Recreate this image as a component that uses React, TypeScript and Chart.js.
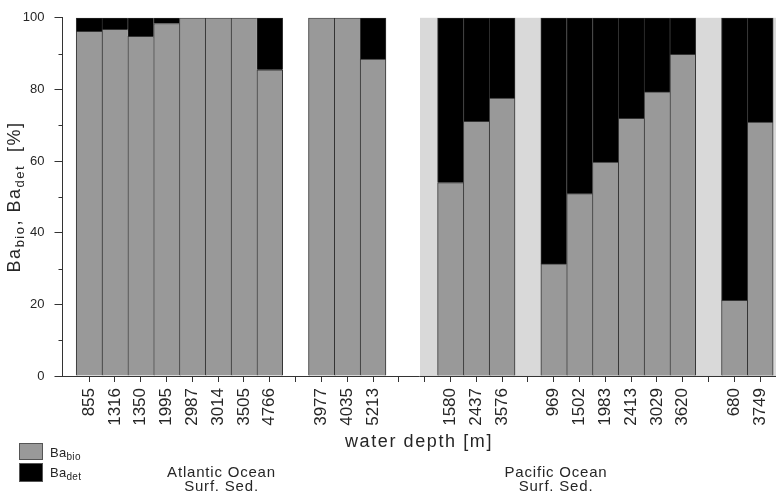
import React, { useEffect, useRef } from 'react';
import { Chart, registerables } from 'chart.js';

Chart.register(...registerables);

// ---- data ----
const DEPTH_LABELS: string[] = [
  '855', '1316', '1350', '1995', '2987', '3014', '3505', '4766', '',
  '3977', '4035', '5213', '', '',
  '1580', '2437', '3576', '',
  '969', '1502', '1983', '2413', '3029', '3620', '',
  '680', '3749',
];
const BA_BIO: (number | null)[] = [
  96.2, 96.8, 94.8, 98.4, 100, 100, 100, 85.5, null,
  100, 100, 88.5, null, null,
  54.0, 71.1, 77.6, null,
  31.3, 50.9, 59.7, 71.9, 79.3, 89.8, null,
  21.1, 70.9,
];
const BA_DET: (number | null)[] = [
  3.8, 3.2, 5.2, 1.6, 0, 0, 0, 14.5, null,
  0, 0, 11.5, null, null,
  46.0, 28.9, 22.4, null,
  68.7, 49.1, 40.3, 28.1, 20.7, 10.2, null,
  78.9, 29.1,
];
const Y_MAJOR_TICKS = [0, 20, 40, 60, 80, 100];
const Y_MINOR_TICKS = [10, 30, 50, 70, 90];
const X_MIN = -1.03;
const X_MAX = 26.61;
const PACIFIC_SHADE_FROM = 12.82;
const GROUP_TITLES = ['Atlantic Ocean', 'Pacific Ocean'];
const GROUP_SUBTITLE = 'Surf. Sed.';
const X_TITLE = 'water depth [m]';
const Y_TITLE_PARTS = [
  { t: 'Ba' }, { t: 'bio', sub: true }, { t: ', Ba' }, { t: 'det', sub: true }, { t: '  [%]' },
];
const LEGEND_ITEMS = [
  { main: 'Ba', sub: 'bio' },
  { main: 'Ba', sub: 'det' },
];

// ---- styles ----
const FONT = '"Liberation Sans", Arial, Helvetica, sans-serif';
const TEXT = '#262626';
const BIO_COLOR = '#999999';
const DET_COLOR = '#000000';
const EDGE = '#333333';
const SHADE = '#d9d9d9';

type Part = { t: string; sub?: boolean };

const toPoints = (vals: (number | null)[]) =>
  vals
    .map((v, i) => (v === null ? null : { x: i, y: v }))
    .filter((p) => p !== null) as { x: number; y: number }[];

const isGroupEnd = (i: number) => !DEPTH_LABELS[i + 1];

function drawRich(
  ctx: CanvasRenderingContext2D,
  parts: Part[],
  x: number,
  y: number,
  size: number,
  subSize: number,
  align: 'left' | 'center',
  spacing: number,
) {
  const mainFont = `${size}px ${FONT}`;
  const subFont = `${subSize}px ${FONT}`;
  (ctx as any).letterSpacing = `${spacing}px`;
  ctx.textBaseline = 'alphabetic';
  ctx.textAlign = 'left';
  const widths = parts.map((p) => {
    ctx.font = p.sub ? subFont : mainFont;
    return ctx.measureText(p.t).width;
  });
  const total = widths.reduce((a, b) => a + b, 0);
  let cx = align === 'center' ? x - total / 2 : x;
  parts.forEach((p, i) => {
    ctx.font = p.sub ? subFont : mainFont;
    ctx.fillText(p.t, cx, p.sub ? y + subSize * 0.3 : y);
    cx += widths[i];
  });
  (ctx as any).letterSpacing = '0px';
}

const decorPlugin = {
  id: 'decor',
  beforeDatasetsDraw(chart: any) {
    const { ctx, chartArea, scales } = chart;
    const x0 = scales.x.getPixelForValue(PACIFIC_SHADE_FROM);
    ctx.save();
    ctx.fillStyle = SHADE;
    ctx.fillRect(x0, chartArea.top, chartArea.right - x0, chartArea.bottom - chartArea.top);
    ctx.restore();
  },
  afterDraw(chart: any) {
    const { ctx, chartArea, scales } = chart;
    ctx.save();
    // minor y ticks
    ctx.strokeStyle = EDGE;
    ctx.lineWidth = 1;
    ctx.beginPath();
    Y_MINOR_TICKS.forEach((v) => {
      const py = Math.round(scales.y.getPixelForValue(v)) + 0.5;
      ctx.moveTo(chartArea.left - 4, py);
      ctx.lineTo(chartArea.left, py);
    });
    ctx.stroke();

    ctx.fillStyle = TEXT;
    // y title (rotated)
    ctx.save();
    ctx.translate(20, (chartArea.top + chartArea.bottom) / 2);
    ctx.rotate(-Math.PI / 2);
    drawRich(ctx, Y_TITLE_PARTS, 0, 0, 18, 13, 'center', 1.5);
    ctx.restore();

    // x title
    drawRich(ctx, [{ t: X_TITLE }], 419, 447, 18, 13, 'center', 1.6);

    // legend
    const boxColors = [BIO_COLOR, DET_COLOR];
    const boxTops = [443, 463];
    LEGEND_ITEMS.forEach((item, i) => {
      ctx.fillStyle = boxColors[i];
      ctx.fillRect(19, boxTops[i], 24, i === 0 ? 17 : 19);
      ctx.strokeStyle = '#555555';
      ctx.strokeRect(19.5, boxTops[i] + 0.5, 23, i === 0 ? 16 : 18);
      ctx.fillStyle = TEXT;
      drawRich(ctx, [{ t: item.main }, { t: item.sub, sub: true }], 50, boxTops[i] + 13.5, 13, 10, 'left', 0.3);
    });

    // group labels
    const centers = [221.5, 556];
    GROUP_TITLES.forEach((title, i) => {
      drawRich(ctx, [{ t: title }], centers[i], 477, 15, 11, 'center', 0.8);
      drawRich(ctx, [{ t: GROUP_SUBTITLE }], centers[i], 491, 15, 11, 'center', 0.8);
    });
    ctx.restore();
  },
};

export default function App() {
  const canvasRef = useRef<HTMLCanvasElement | null>(null);

  useEffect(() => {
    const canvas = canvasRef.current;
    if (!canvas) return;
    const borderWidth = (c: any) => {
      const i = c.raw ? c.raw.x : -1;
      return { top: 1, left: 1, bottom: 0, right: i >= 0 && isGroupEnd(i) ? 1 : 0 };
    };
    const chart = new Chart(canvas, {
      type: 'bar',
      data: {
        datasets: [
          {
            label: 'Ba bio',
            data: toPoints(BA_BIO),
            backgroundColor: BIO_COLOR,
            borderColor: EDGE,
            borderWidth,
            borderSkipped: false,
            stack: 'ba',
            barPercentage: 1,
            categoryPercentage: 1,
          },
          {
            label: 'Ba det',
            data: toPoints(BA_DET),
            backgroundColor: DET_COLOR,
            borderColor: EDGE,
            borderWidth,
            borderSkipped: false,
            stack: 'ba',
            barPercentage: 1,
            categoryPercentage: 1,
          },
        ] as any,
      },
      options: {
        responsive: false,
        animation: false,
        devicePixelRatio: 1,
        layout: { padding: { top: 16, left: 0, right: 0, bottom: 0 } },
        plugins: {
          legend: { display: false },
          tooltip: { enabled: false },
          title: { display: false },
        },
        scales: {
          x: {
            type: 'linear',
            offset: false,
            min: X_MIN,
            max: X_MAX,
            afterFit: (s: any) => {
              s.height = 118;
              s.paddingLeft = 0;
              s.paddingRight = 0;
            },
            afterBuildTicks: (s: any) => {
              s.ticks = DEPTH_LABELS.map((_, i) => ({ value: i }));
            },
            ticks: {
              callback: (v: any) => DEPTH_LABELS[v as number] ?? '',
              autoSkip: false,
              minRotation: 90,
              maxRotation: 90,
              font: { family: FONT, size: 17 },
              color: TEXT,
              padding: 6,
            },
            grid: { offset: false, drawOnChartArea: false, drawTicks: true, tickLength: 6, color: EDGE },
            border: { display: true, color: EDGE, width: 1, z: 1 },
          },
          y: {
            type: 'linear',
            min: 0,
            max: 100,
            stacked: true,
            afterFit: (s: any) => {
              s.width = 62.5;
            },
            afterBuildTicks: (s: any) => {
              s.ticks = Y_MAJOR_TICKS.map((v) => ({ value: v }));
            },
            ticks: { font: { family: FONT, size: 13 }, color: TEXT, padding: 10 },
            grid: { drawOnChartArea: false, drawTicks: true, tickLength: 8, color: EDGE },
            border: { display: true, color: EDGE, width: 1, z: 1 },
          },
        },
      } as any,
      plugins: [decorPlugin],
    });
    return () => chart.destroy();
  }, []);

  return (
    <div style={{ position: 'absolute', left: 0, top: 0, width: 776, height: 494, background: '#fff' }}>
      <canvas ref={canvasRef} width={776} height={494} style={{ display: 'block', width: 776, height: 494 }} />
    </div>
  );
}
